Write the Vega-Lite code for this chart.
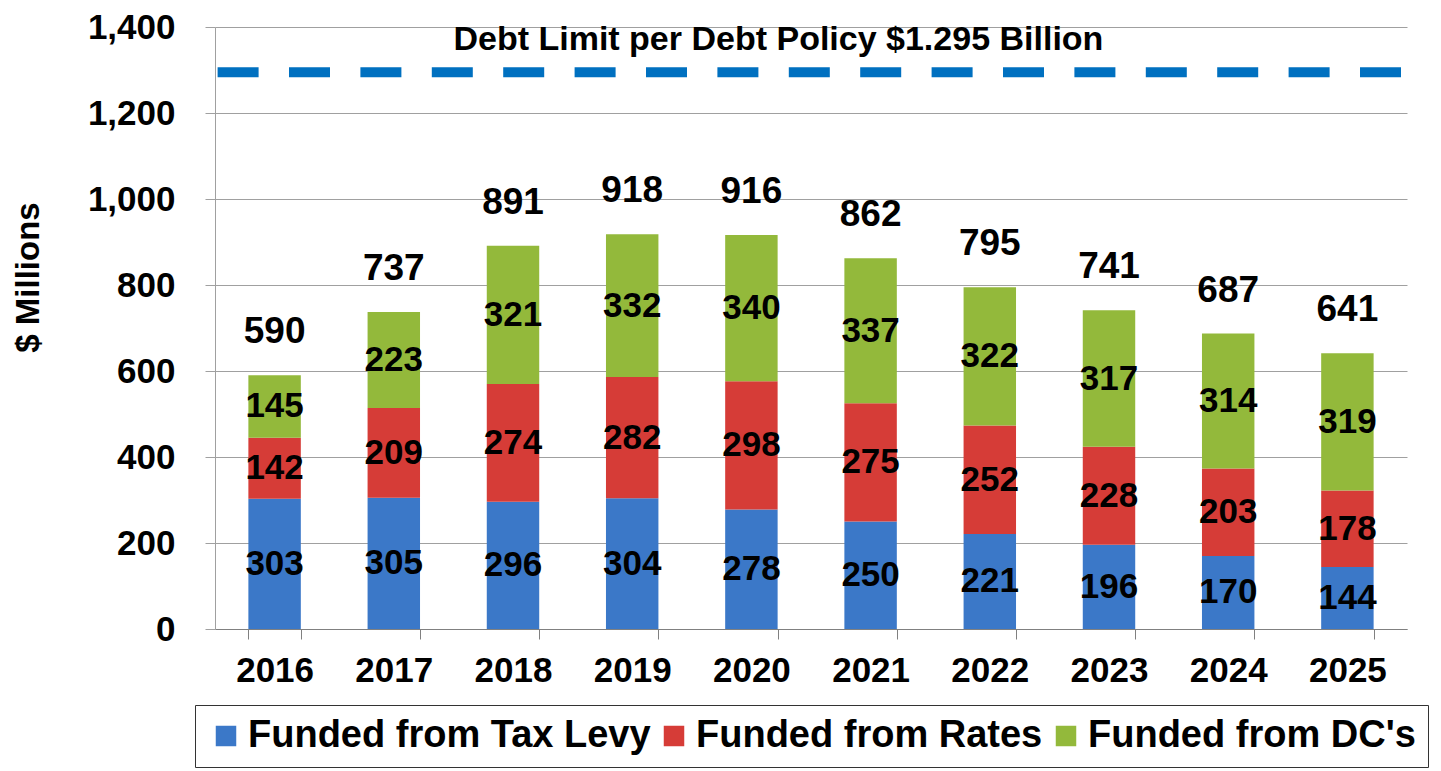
{
  "$schema": "https://vega.github.io/schema/vega-lite/v6.json",
  "width": 1192,
  "height": 602,
  "autosize": {"type": "none"},
  "padding": {"left": 215, "top": 27, "right": 34, "bottom": 142},
  "background": "white",
  "config": {"font": "Liberation Sans", "view": {"stroke": null}},
  "datasets": {
    "funding": [
      {"year": "2016", "series": "Funded from Tax Levy", "value": 303},
      {"year": "2016", "series": "Funded from Rates", "value": 142},
      {"year": "2016", "series": "Funded from DC's", "value": 145},
      {"year": "2017", "series": "Funded from Tax Levy", "value": 305},
      {"year": "2017", "series": "Funded from Rates", "value": 209},
      {"year": "2017", "series": "Funded from DC's", "value": 223},
      {"year": "2018", "series": "Funded from Tax Levy", "value": 296},
      {"year": "2018", "series": "Funded from Rates", "value": 274},
      {"year": "2018", "series": "Funded from DC's", "value": 321},
      {"year": "2019", "series": "Funded from Tax Levy", "value": 304},
      {"year": "2019", "series": "Funded from Rates", "value": 282},
      {"year": "2019", "series": "Funded from DC's", "value": 332},
      {"year": "2020", "series": "Funded from Tax Levy", "value": 278},
      {"year": "2020", "series": "Funded from Rates", "value": 298},
      {"year": "2020", "series": "Funded from DC's", "value": 340},
      {"year": "2021", "series": "Funded from Tax Levy", "value": 250},
      {"year": "2021", "series": "Funded from Rates", "value": 275},
      {"year": "2021", "series": "Funded from DC's", "value": 337},
      {"year": "2022", "series": "Funded from Tax Levy", "value": 221},
      {"year": "2022", "series": "Funded from Rates", "value": 252},
      {"year": "2022", "series": "Funded from DC's", "value": 322},
      {"year": "2023", "series": "Funded from Tax Levy", "value": 196},
      {"year": "2023", "series": "Funded from Rates", "value": 228},
      {"year": "2023", "series": "Funded from DC's", "value": 317},
      {"year": "2024", "series": "Funded from Tax Levy", "value": 170},
      {"year": "2024", "series": "Funded from Rates", "value": 203},
      {"year": "2024", "series": "Funded from DC's", "value": 314},
      {"year": "2025", "series": "Funded from Tax Levy", "value": 144},
      {"year": "2025", "series": "Funded from Rates", "value": 178},
      {"year": "2025", "series": "Funded from DC's", "value": 319}
    ],
    "limit": [
      {"label": "Debt Limit per Debt Policy $1.295 Billion", "limit": 1295, "year": "2020", "labelLevel": 1370}
    ]
  },
  "layer": [
    {
      "data": {"name": "funding"},
      "mark": {"type": "bar"},
      "encoding": {
        "x": {
          "field": "year",
          "type": "nominal",
          "scale": {"paddingInner": 0.56, "paddingOuter": 0.28},
          "axis": {
            "title": null,
            "labelAngle": 0,
            "labelFontSize": 35,
            "labelFontWeight": "bold",
            "labelColor": "black",
            "labelPadding": 14,
            "tickBand": "extent",
            "tickSize": 10,
            "tickColor": "#808080",
            "domainColor": "#808080",
            "grid": false
          }
        },
        "y": {
          "field": "value",
          "type": "quantitative",
          "aggregate": "sum",
          "stack": "zero",
          "scale": {"domain": [0, 1400], "nice": false},
          "axis": {
            "values": [0, 200, 400, 600, 800, 1000, 1200, 1400],
            "format": ",d",
            "labelFontSize": 35,
            "labelFontWeight": "bold",
            "labelColor": "black",
            "labelPadding": 30,
            "tickSize": 10,
            "tickColor": "#a0a0a0",
            "domainColor": "#a0a0a0",
            "gridColor": "#a0a0a0",
            "title": "$ Millions",
            "titleFontSize": 33,
            "titleFontWeight": "bold",
            "titleColor": "black",
            "titleAngle": -90,
            "titleX": -187,
            "titleY": 250,
            "titleAlign": "center",
            "titleBaseline": "middle"
          }
        },
        "color": {
          "field": "series",
          "type": "nominal",
          "scale": {
            "domain": ["Funded from Tax Levy", "Funded from Rates", "Funded from DC's"],
            "range": ["#3b78c8", "#d63c37", "#93b93b"]
          },
          "legend": {
            "orient": "none",
            "legendX": -20,
            "legendY": 678,
            "direction": "horizontal",
            "title": null,
            "symbolType": "square",
            "symbolSize": 420,
            "symbolStrokeWidth": 0,
            "symbolOpacity": 1,
            "labelFontSize": 38,
            "labelFontWeight": "bold",
            "labelColor": "black",
            "labelLimit": 600,
            "labelOffset": 3,
            "columnPadding": 4,
            "padding": 12,
            "strokeColor": "#333333"
          }
        },
        "order": {"field": "series", "sort": "descending"}
      }
    },
    {
      "data": {"name": "funding"},
      "mark": {"type": "text", "fontSize": 35, "fontWeight": "bold", "color": "black", "baseline": "middle"},
      "encoding": {
        "x": {"field": "year", "type": "nominal"},
        "y": {"field": "value", "type": "quantitative", "aggregate": "sum", "stack": "zero", "bandPosition": 0.5},
        "detail": {"field": "series"},
        "order": {"field": "series", "sort": "descending"},
        "text": {"field": "value", "aggregate": "sum", "type": "quantitative"}
      }
    },
    {
      "data": {"name": "funding"},
      "transform": [{"aggregate": [{"op": "sum", "field": "value", "as": "total"}], "groupby": ["year"]}],
      "mark": {"type": "text", "fontSize": 37, "fontWeight": "bold", "color": "black", "baseline": "middle", "dy": -43},
      "encoding": {
        "x": {"field": "year", "type": "nominal"},
        "y": {"field": "total", "type": "quantitative"},
        "text": {"field": "total", "type": "quantitative"}
      }
    },
    {
      "data": {"name": "limit"},
      "mark": {"type": "rule", "color": "#0070c0", "strokeWidth": 10, "strokeDash": [41, 30.4], "strokeDashOffset": 65.4},
      "encoding": {"y": {"field": "limit", "type": "quantitative"}}
    },
    {
      "data": {"name": "limit"},
      "mark": {"type": "text", "fontSize": 34, "fontWeight": "bold", "color": "black", "baseline": "middle", "dx": 27},
      "encoding": {
        "x": {"field": "year", "type": "nominal"},
        "y": {"field": "labelLevel", "type": "quantitative"},
        "text": {"field": "label"}
      }
    }
  ]
}
